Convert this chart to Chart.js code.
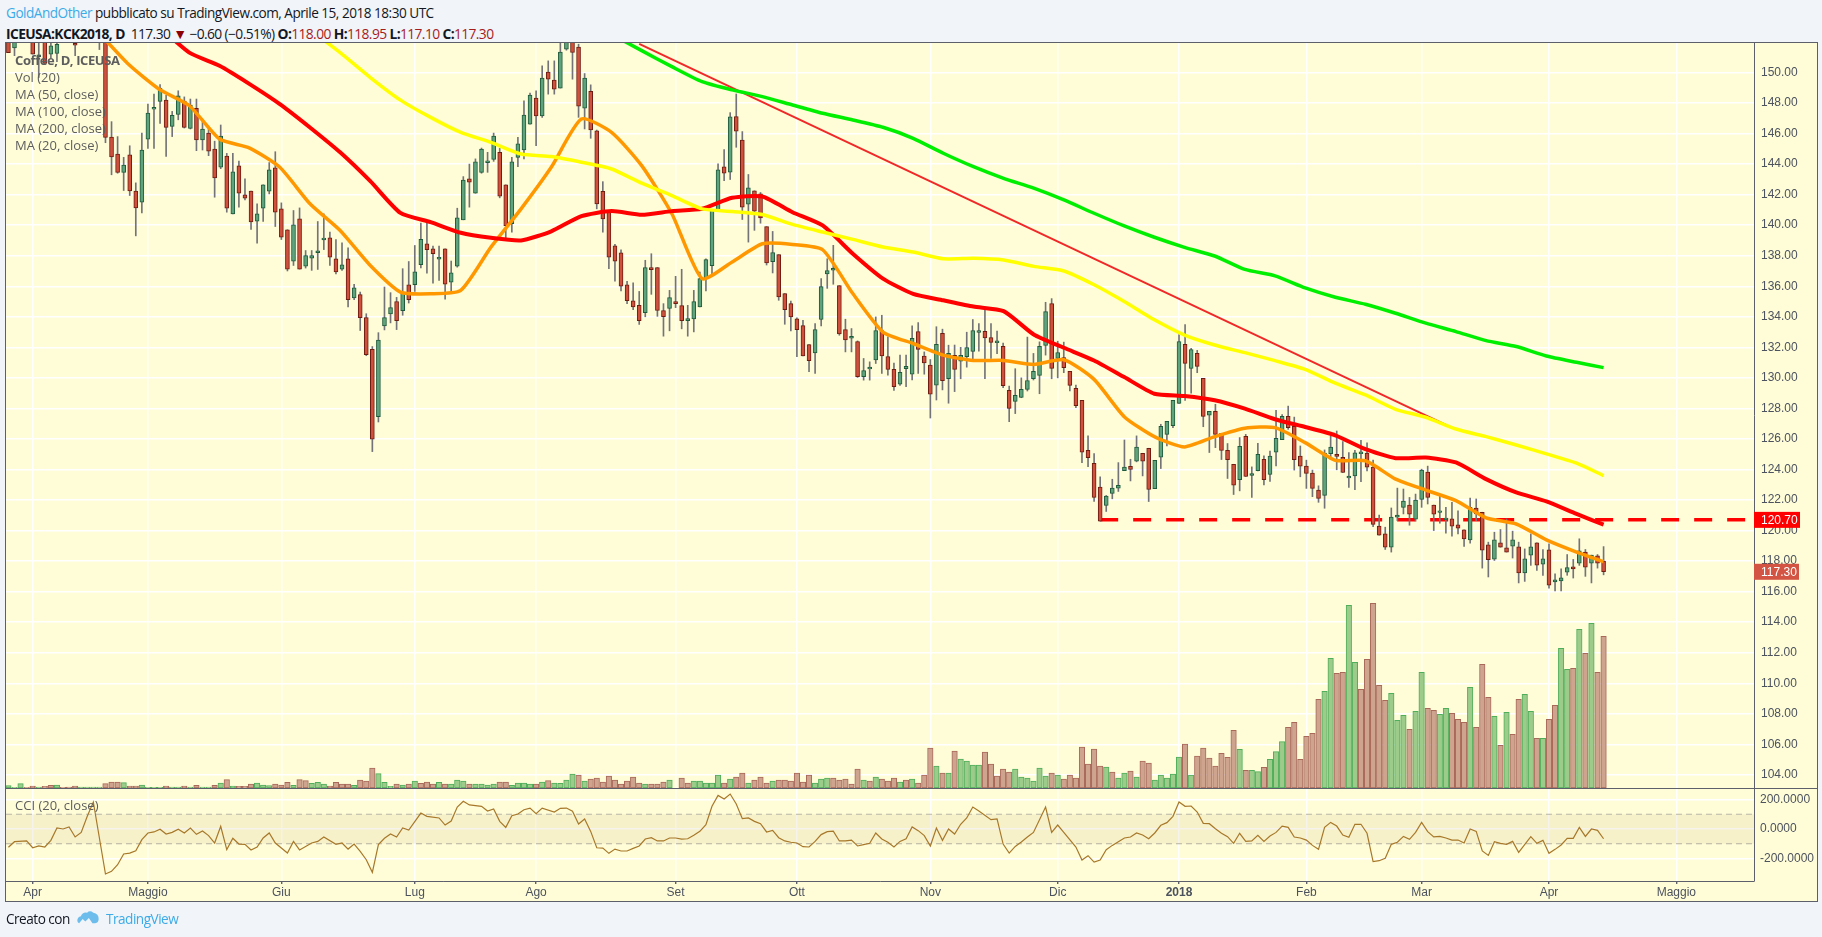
<!DOCTYPE html>
<html>
<head>
<meta charset="utf-8">
<title>ICEUSA:KCK2018</title>
<script src="https://cdn.jsdelivr.net/npm/chart.js@4/dist/chart.umd.min.js"></script>
<style>
  html, body { margin: 0; padding: 0; background: #f1f4f8; width: 1822px; height: 937px; overflow: hidden; }
  body { position: relative; font-family: "Open Sans", sans-serif; color: #131722; }
  .abs { position: absolute; white-space: nowrap; }
  #frame { left: 5px; top: 42px; width: 1811px; height: 858px; background: #fffdd8; border: 1px solid #5d606b; box-sizing: content-box; }
  #paneLine { left: 6px; top: 788px; width: 1811px; height: 1px; background: #5d606b; }
  canvas { position: absolute; left: 6px; }
  .leg { left: 15px; font-size: 13px; line-height: 17px; color: #5d5d5d; }
  .red { color: #a61c1c; }
</style>
</head>
<body>
<div class="abs" style="left:6px;top:3px;font-size:13.6px;line-height:20px;letter-spacing:-.5px"><span style="color:#3cabe8">GoldAndOther</span> pubblicato su TradingView.com, Aprile 15, 2018 18:30 UTC</div>
<div class="abs" style="left:6px;top:24px;font-size:13.8px;line-height:20px;letter-spacing:-.6px"><b>ICEUSA:KCK2018, D</b>&nbsp; 117.30 <span style="color:#8b0000;font-size:14px">▼</span> −0.60 (−0.51%) <b>O:</b><span class="red">118.00</span> <b>H:</b><span class="red">118.95</span> <b>L:</b><span class="red">117.10</span> <b>C:</b><span class="red">117.30</span></div>

<div class="abs" id="frame"></div>
<canvas id="priceChart" width="1810" height="745" style="top:43px"></canvas>
<canvas id="cciChart" width="1810" height="112" style="top:788px"></canvas>
<div class="abs" id="paneLine"></div>

<div class="abs leg" style="top:52px;font-weight:700;letter-spacing:-.4px">Coffee, D, ICEUSA</div>
<div class="abs leg" style="top:69px">Vol (20)</div>
<div class="abs leg" style="top:86px">MA (50, close)</div>
<div class="abs leg" style="top:103px">MA (100, close)</div>
<div class="abs leg" style="top:120px">MA (200, close)</div>
<div class="abs leg" style="top:137px">MA (20, close)</div>
<div class="abs leg" style="top:797px">CCI (20, close)</div>

<div class="abs" style="left:6px;top:909px;font-size:13.6px;line-height:20px;letter-spacing:-.5px">Creato con</div>
<svg class="abs" style="left:76px;top:910px" width="24" height="16" viewBox="0 0 26 18">
  <path d="M1 12 Q1 8 5 7 Q7 2 12 3 Q15 0 19 3 Q25 4 25 10 Q25 14 21 15 L18 15 L14 9 L10 13 L7 10 L3 15 Q1 14 1 12 Z" fill="#6cbcec"/>
</svg>
<div class="abs" style="left:106px;top:909px;font-size:13.6px;line-height:20px;letter-spacing:-.5px;color:#3cabe8">TradingView</div>

<script>
// Candles, one row of ten per line
const opens = [
  152.3,151.6,153,153.2,153,151.1,152.4,151.2,151.24,153,
  153.5,151.85,153,153.6,154,153.5,153,145.77,144.66,143.46,
  144.6,142.24,141.5,145.64,147.65,148.1,148.2,146.47,147.25,148.13,
  146.34,147.65,145.58,146.03,144.99,143.79,144.53,140.74,143.88,141.98,
  142.24,140.26,141.11,142.22,143.75,141.07,139.7,137.65,140.41,137.32,
  137.84,138.26,139.1,139.17,137.8,137.12,137.8,135.23,135.45,133.94,
  131.87,127.46,133.4,134.18,135,134.4,136.1,136.1,137.41,138.78,
  138.45,137.84,138.45,136.27,137.32,140.35,143.03,142.09,143.46,144.16,
  144.31,144.77,142.64,140.09,144.44,144.92,146.62,148.32,147.15,150.02,
  149.5,148.98,151.53,152.3,151.66,147.67,148.76,146.17,142.22,140.85,
  138.65,138.19,136.1,135.05,134.75,134.27,137.22,137.22,134.41,134.54,
  134.99,134.73,133.75,133.86,134.65,136.5,137.35,140.96,143.82,143.47,
  147.11,145.58,141.38,142.25,142.05,139.9,137.61,138.07,135.52,134.86,
  133.86,133.42,132.18,131.64,133.82,136.8,137.11,136.04,133.16,132.66,
  132.38,130.07,130.64,131.18,133.1,131.4,130.56,129.58,130.6,130.24,
  133.03,131.42,130.83,129.52,132.92,129.95,131.48,131.1,131.38,131.73,
  133.04,133.04,132.64,132.36,132.06,129.18,128.46,128.72,129.25,129.94,
  130.16,132.12,134.87,131.27,131.32,130.42,129.31,128.53,125.26,124.41,
  122.84,121.64,122.43,122.78,123.93,124.21,124.54,125.06,125.39,122.75,
  124.8,126.3,126.87,128.33,132.19,130.62,131.6,129.97,127.55,127.81,
  126.37,125.26,124.34,123.34,126.17,123.67,123.93,124.67,123.67,125.13,
  125.96,127.48,126.83,124.87,124.22,123.76,122.65,122.3,125.04,125,
  124.8,123.5,123.57,125.09,125.07,124.15,120.3,119.78,118.91,120.87,
  121.52,121.67,120.74,122.04,123.83,121.67,121.24,120.76,120.76,120.37,
  120.04,119.39,121.48,121.2,119.07,118.13,119.2,118.87,118.98,118.93,
  117.22,118.39,119.2,117.8,118.74,116.63,116.7,117.28,117.63,117.87,
  118.59,117.87,118.35,118
];
const highs = [
  152.6,152.6,153.5,153.8,153.5,152.2,153,152.2,152.3,154,
  154.3,152.5,154,154.4,154.6,154,153.6,146.78,145.8,144.44,
  145.2,142.77,146.03,147.93,148.58,149.2,148.5,147.45,148.8,148.4,
  148.26,148.26,146.9,146.36,145.5,146.56,144.7,144.7,144.2,143.03,
  142.24,141.4,142.64,144.1,144.81,141.46,139.7,140.96,141.13,138.34,
  138.34,140.24,140.74,139.54,139.06,138.85,138.52,136.12,135.62,134.2,
  132.05,132.96,135.95,135.58,135.27,137.15,137.62,138.67,140.13,140.13,
  138.63,138.63,138.45,137.65,141.11,143.18,144,144.34,145.05,144.77,
  146.03,145.03,142.64,144.44,145.75,148.15,148.65,148.8,150.44,150.76,
  150.76,152.5,153,153,151.85,149.93,149.19,146.23,142.85,140.96,
  138.74,138.39,136.32,136.23,135.66,137.7,138.13,137.22,134.86,135.73,
  136.65,137.11,134.75,135.73,136.93,137.8,141,144.01,144.95,147.37,
  148.59,146.13,143.32,142.25,142.14,139.9,139.59,138.07,135.52,135.03,
  133.93,133.77,132.18,133.56,136.5,137.8,138.68,136.04,133.84,133.23,
  132.42,131.27,131.05,133.99,134.1,132.68,130.97,131.5,131.5,133.4,
  133.62,131.7,131.2,133.35,133.19,132.14,132.15,132,132.99,133.82,
  133.56,134.52,133.56,133.06,132.27,129.46,130.6,130,132.67,131.6,
  132.36,134.95,135.19,132.4,132.34,130.42,129.53,128.53,126.2,125.04,
  123.52,122.3,123.36,124.45,125.93,124.67,126.2,125.06,125.39,124.6,
  126.96,127.15,128.53,132.84,133.49,131.93,131.8,129.97,127.81,128.27,
  126.37,125.7,124.34,126.09,126.3,124.17,125.72,124.89,125.2,127.87,
  127.6,128.15,127.43,125.54,124.61,123.96,122.93,125.28,126.2,126.52,
  125.83,125.11,125.26,125.91,125.74,124.61,121.02,120.22,121.48,122.78,
  122.72,122.17,122.39,124.02,124.22,121.67,122.35,121.52,121.85,121.3,
  120.04,122.13,122.07,121.2,119.24,119.89,120.07,120.76,119.96,119.24,
  118.8,119.78,119.2,118.76,119.13,117.17,117.5,118.43,118.11,119.46,
  118.76,118.39,118.43,118.95
];
const lows = [
  151.3,151.1,152.4,152.6,151.2,149.67,150.6,150.95,150.7,152.3,
  152.6,151.1,152.5,152.8,152.9,151.5,145.4,143.3,143.4,142.27,
  141.94,139.3,140.8,145.03,145.03,146.67,144.5,145.8,146.9,146.36,
  146.3,144.88,144.92,144.55,141.83,143.7,140.85,140.74,141.18,141.66,
  139.72,138.82,140.24,142.05,139.91,139.06,137,137.36,137.12,137.19,
  137.04,137.1,138.4,137.36,136.8,137.04,134.64,135.12,133.1,131.45,
  125.17,127.11,133.14,133.6,133.16,134.1,134.9,135.66,137.2,136.86,
  136.2,136.38,135.16,135.51,137.25,140.35,141.18,142.09,143.4,143.46,
  144.18,141.79,139,139.54,143.83,144.34,146.62,145.2,147.06,148.58,
  148.58,148.98,151.46,149.56,147.06,146.3,145.69,141.07,139.54,137.15,
  136.34,135.69,134.86,134.47,133.5,134,135.47,134.03,132.73,133.08,
  134.6,133.21,132.73,133.01,134.65,135.69,136.65,140.96,142.92,142.99,
  145.1,140.37,138.89,139.66,140.13,137.39,136.87,135.08,133.51,133.08,
  131.38,131.44,130.4,130.29,133.4,135.86,136.13,132.79,131.7,131.7,
  130.03,129.85,129.85,130.94,130.29,130.18,129.17,129.5,129.43,129.86,
  130.29,130.24,127.37,128.55,129.21,128.34,129.1,129.94,130.7,131.14,
  131.75,129.94,131.27,131.58,129.35,127.13,127.66,128.7,129.14,129.86,
  128.96,131.49,129.94,130,130.34,129.14,128.05,124.45,124.19,121.9,
  120.62,121.25,122.08,122.56,123.93,123.25,124.5,123.58,121.9,122.75,
  124.06,125.54,126.74,128.33,128.53,129,130.34,126.8,125.11,125.43,
  124.65,123.41,122.36,122.6,123.54,122.17,123.9,122.99,123.21,124.24,
  125.96,126.63,123.96,123.52,122.76,122.22,121.85,121.46,124.67,123.98,
  123.8,122.83,122.67,123.2,123.91,120.26,119.7,118.76,118.59,120.65,
  121.09,120.35,120.61,121.52,121.74,120,120.48,119.83,119.63,119.78,
  118.96,119.17,120.65,117.54,116.96,118.04,118.91,118.59,118.2,116.57,
  116.67,117.72,117.39,117.07,116.22,116.04,116.04,117.07,116.89,117.72,
  117,116.57,117.54,117.1
];
const closes = [
  151.3,152.2,153.2,153.5,151.2,151.1,150.6,151.74,151.85,153.5,
  154,151.75,153.6,154.1,153.5,153,145.75,144.47,143.46,143.94,
  142.24,141.13,144.92,147.34,147.65,148.98,146.4,147.2,148.47,146.4,
  147.87,145.58,146.3,144.84,143.09,145.84,141.11,143.49,142.09,141.76,
  140.22,140.74,142.64,143.62,140.85,139.22,137.12,140.02,137.12,138,
  138,138.26,139.1,137.91,136.93,137.41,135.12,135.9,133.94,131.52,
  125.98,132.48,133.94,134.6,133.75,135.62,135.12,136.95,139.08,138.39,
  138.13,137.84,136.14,136.88,140.48,142.96,142.81,144.14,144.99,144.16,
  145.84,141.9,139.96,144.14,145.32,147.21,148.52,147.15,149.63,149.56,
  148.91,151.33,152.5,151.31,147.8,149.63,146.23,141.39,140.41,137.91,
  137.65,136.01,135.05,134.64,133.75,137.22,137.09,134.41,134,135.25,
  134.86,133.75,133.88,134.99,136.5,137.74,141,143.62,143.4,147.1,
  146.15,141.18,142.44,140.92,140.48,137.52,138.2,135.3,134.47,133.99,
  133.16,131.44,131.12,133.16,135.97,137.02,137.11,132.88,132.49,132.66,
  130.07,130.48,130.64,133.1,131.44,130.55,129.43,130.37,130.76,132.59,
  131.86,130.98,128.93,132.2,129.82,131.6,130.56,131.47,131.99,133.1,
  133.04,132.62,132.32,132.36,129.49,128,128.85,129.25,129.83,130.42,
  132.06,134.34,130.62,131.66,130.66,129.51,128.18,125.13,124.78,122.17,
  120.62,122.25,122.78,122.97,124.15,124,125.46,124.54,122.69,124.6,
  126.83,127.15,128.53,132.38,130.95,131.86,130.75,127.48,127.81,126.3,
  125.24,124.65,122.97,125.52,123.54,123.67,125,123.34,124.87,126.04,
  127.48,126.74,124.65,124.22,123.74,122.76,122.11,125.07,125.46,124.85,
  123.8,123.5,125.09,125.09,124.15,120.41,119.7,118.91,120.89,121.02,
  121.93,121.07,122,123.96,122.17,121.07,121.24,120.76,120.28,120.15,
  119.46,121.52,121.09,118.72,118.09,119.39,118.91,118.59,119.39,117.22,
  118.15,118.93,117.74,118.15,116.43,116.78,116.91,117.57,117.48,118.67,
  117.61,118.39,117.87,117.3
];

// Volume in hundreds of contracts, with its direction (u = green, d = red)
const volumes = [
  7,2,13,2,6,3,5,8,9,2,
  3,6,3,3,3,3,13,18,18,16,
  6,6,9,2,2,2,6,3,3,6,
  3,8,3,3,8,15,25,6,5,5,
  12,15,9,7,12,9,17,8,25,22,
  14,17,12,6,17,12,12,8,24,21,
  60,43,17,5,12,9,12,21,14,18,
  12,17,12,12,24,21,12,12,12,9,
  12,18,18,8,15,15,12,12,18,22,
  15,14,24,42,39,21,27,30,18,36,
  24,12,21,33,15,12,12,12,18,24,
  0,30,15,21,21,15,15,39,15,27,
  33,45,15,24,33,15,21,24,24,21,
  45,18,39,15,27,30,30,24,27,12,
  57,24,21,33,27,21,30,18,24,27,
  15,39,120,66,45,45,111,87,81,69,
  69,108,72,36,57,48,57,33,30,21,
  60,36,45,39,27,39,30,123,72,117,
  66,63,48,30,45,51,33,81,75,24,
  39,30,42,93,132,39,96,120,90,66,
  104,92,173,116,53,53,49,62,86,109,
  139,182,197,86,155,164,266,290,389,344,
  347,548,377,296,386,554,308,263,284,203,
  218,176,230,347,239,233,221,239,224,206,
  197,302,182,371,272,215,128,227,161,266,
  281,230,149,149,206,248,419,356,359,476,
  404,494,347,455
];
const volumeDirs = [
  'uuuddudd' + 'ud', 'dduuuuddd' + 'u', 'dduuuuduud', 'uduudududd', 'duuudddudd',
  'uuuddddudd', 'duuudududd', 'duduuuduuu', 'udduuuudud', 'uuuududddd',
  'dddddudddu', 'ddduuuuudu', 'dduddduddd', 'ddduuudddd', 'dududddudu',
  'dddududuuu', 'uddddduuuu', 'uududddddd', 'duduududdu', 'uuuududddd',
  'ddduduuduu', 'udddddduud', 'duuddddduu', 'uduudduudd', 'dudddududd',
  'uududduudu', 'dudd'
].join('');

// Moving averages, one value every five bars or so
const maBarStep = 4.972;
const ma20First = 3;
const ma50First = 5;
const ma100First = 10;
const ma200First = 20;
const ma20 = [152.6,150.5,148.9,147.82,145.64,145.05,143.79,141.4,139.65,137.36,135.62,135.51,135.73,138.56,141.07,143.79,146.95,146.08,143.9,140.75,136.5,137.59,138.78,138.74,138.39,135.52,133,132.25,131.49,131.14,131.14,130.88,131.19,129.9,127.46,126.15,125.48,126.15,126.7,126.74,125.76,124.6,124.57,123.37,122.65,121.96,120.83,120.43,119.39,118.59,117.96];
const ma50 = [153,151.3,150.44,149.24,147.93,146.4,144.77,142.88,140.8,140.2,139.5,139.17,139,139.6,140.59,140.92,140.68,140.92,141.07,141.79,141.88,140.85,139.98,138.13,136.5,135.5,135.08,134.67,134.37,132.84,131.97,131.14,130.05,128.96,128.81,128.53,127.98,127.29,126.78,126.24,125.33,124.74,124.78,124.46,123.37,122.5,121.91,121.09,120.39];
const ma100 = [152.8,151.3,149.67,148.19,147.06,146.08,145.42,144.66,144.49,144.12,143.68,142.75,141.94,141.07,140.9,140.7,140.05,139.55,139.07,138.57,138.24,137.8,137.83,137.72,137.3,137,136.1,135,133.8,132.8,132.15,131.65,131.13,130.56,129.65,128.88,127.94,127.42,126.65,126.15,125.6,125.02,124.41,123.6];
const ma200 = [152.5,151.43,150.38,149.4,148.86,148.42,147.87,147.33,146.89,146.41,145.69,144.71,143.83,143.07,142.42,141.65,140.78,139.95,139.21,138.55,137.98,137.1,136.68,135.89,135.28,134.82,134.23,133.58,133.03,132.44,132.05,131.43,131.02,130.67];

// CCI (20), null where the vertex could not be told apart
const cci = [
  -124,-86,null,-81,-127,-115,-122,-77,7,0,
  14,-54,-23,86,183,null,-305,-287,-242,-169,
  -163,-147,-72,-27,-20,-2,-34,-23,-2,-27,
  7,-36,-14,-45,-95,18,-140,-63,-102,-104,
  -142,-122,-61,-27,-95,null,-163,-84,-142,null,
  -95,-84,-54,null,-104,-95,-136,-102,-151,-208,
  -294,-106,-63,-34,-54,7,-7,null,108,86,
  null,75,27,54,149,188,163,null,154,122,
  136,52,11,90,102,131,142,104,142,null,
  115,140,142,120,34,68,-16,-127,-129,-165,
  -136,-149,-149,-131,-115,-68,-59,-81,-81,-61,
  -61,-68,-66,-43,-16,29,154,228,203,237,
  170,70,75,52,36,-20,-9,-59,-81,-90,
  -95,-120,-122,-84,-38,-18,-14,-81,-81,-75,
  -115,-106,-97,-27,-68,-90,-122,-84,-66,14,
  -11,-45,-115,7,-77,0,-34,32,75,149,
  122,null,63,68,-102,-163,-118,-88,-54,-23,
  null,149,-23,27,-23,null,-122,-210,-181,-224,
  -210,-140,-111,-86,-61,-54,-27,-41,-66,-27,
  25,43,86,183,154,156,115,38,36,2,
  -29,-52,-97,-29,-84,-81,-43,-84,-47,-23,
  20,11,-54,-61,-75,-111,-138,11,45,20,
  -41,-56,32,32,-29,-221,-215,-199,-104,-90,
  -50,-70,-23,45,-18,-54,-50,-61,-75,-75,
  -95,0,-16,-149,-179,-86,-97,-104,-84,-158,
  null,-52,-97,-77,-165,-138,-108,-63,-63,11,-50,0,-9,-66
];
const cciTicks = [-200, 0, 200];

// Trend line and support level
const trendBars = [104, 237];
const trendPrices = [151.87, 126.92];
const supportBars = [180, 288];
const supportPrice = 120.7;
const lastPrice = 117.3;

// Time axis
const monthBars = [4, 23, 45, 67, 87, 110, 130, 152, 173, 193, 214, 233, 254, 275];
const monthLabels = ['Apr', 'Maggio', 'Giu', 'Lug', 'Ago', 'Set', 'Ott', 'Nov', 'Dic', '2018', 'Feb', 'Mar', 'Apr', 'Maggio'];

const lastBar = opens.length - 1;
const xMin = -0.4;
const xMax = 287.8;
const priceMin = 103.14;
const priceMax = 151.93;
const volumeMax = 2235;
const cciMin = -352.5;
const cciMax = 278;
const gridColor = '#ffffff';
const axisColor = '#5d606b';
const tickColor = '#4c525e';
const tickFont = { family: '"Liberation Sans", sans-serif', size: 12 };

function maPoints(values, first) {
  return values.map((v, k) => ({ x: Math.min((first + k) * maBarStep, lastBar), y: v }));
}

function maDataset(values, first, color, width) {
  return {
    type: 'line', data: maPoints(values, first), borderColor: color, borderWidth: width,
    pointRadius: 0, tension: 0.2, order: 1, yAxisID: 'y'
  };
}

// Chart.js keeps half a tick label free at the ends of an axis, the panes here run edge to edge
function fitRightAxis(axis) {
  axis.width = 62;
  axis.paddingTop = 0;
  axis.paddingBottom = 0;
}

function fitBottomAxis(axis, height) {
  axis.height = height;
  axis.paddingLeft = 0;
  axis.paddingRight = 0;
}

const wickData = highs.map((h, i) => ({ x: i, y: [lows[i], h] }));
const bodyData = opens.map((o, i) => ({
  x: i,
  y: Math.abs(o - closes[i]) < 0.12 ? [o - 0.06, o + 0.06] : [o, closes[i]]
}));
const isUp = opens.map((o, i) => closes[i] >= o);
const volumeData = volumes.map((v, i) => ({ x: i, y: v }));

// Boxes on the price axis for the support level and the last close
const priceTags = {
  id: 'priceTags',
  afterDraw(chart) {
    const c = chart.ctx;
    const yScale = chart.scales.y;
    const right = chart.chartArea.right;
    [[supportPrice, '#ff0000', 46], [lastPrice, '#d35442', 45]].forEach(tag => {
      const y = yScale.getPixelForValue(tag[0]);
      c.save();
      c.fillStyle = tag[1];
      c.fillRect(right, y - 8, tag[2], 16);
      c.fillStyle = '#ffffff';
      c.font = '12px "Liberation Sans", sans-serif';
      c.textAlign = 'left';
      c.textBaseline = 'middle';
      c.fillText(tag[0].toFixed(2), right + 7, y + 0.5);
      c.restore();
    });
  }
};

const priceChart = new Chart(document.getElementById('priceChart').getContext('2d'), {
  type: 'bar',
  data: {
    datasets: [
      maDataset(ma200, ma200First, '#00ee00', 3.5),
      maDataset(ma100, ma100First, '#ffff00', 3.5),
      {
        type: 'line', data: trendBars.map((b, i) => ({ x: b, y: trendPrices[i] })),
        borderColor: '#f02828', borderWidth: 2, pointRadius: 0, order: 2, yAxisID: 'y'
      },
      maDataset(ma50, ma50First, '#ff0000', 4),
      maDataset(ma20, ma20First, '#ff9800', 3.5),
      {
        data: bodyData, order: 4, yAxisID: 'y', grouped: false, barThickness: 4, borderSkipped: false, borderWidth: 1,
        backgroundColor: isUp.map(u => u ? '#5fa37c' : '#d0503c'),
        borderColor: isUp.map(u => u ? '#1f5a3c' : '#6e1c12')
      },
      {
        data: wickData, order: 5, yAxisID: 'y', grouped: false, barThickness: 1, borderWidth: 0,
        backgroundColor: '#747478'
      },
      {
        type: 'line', data: supportBars.map(b => ({ x: b, y: supportPrice })),
        borderColor: '#ff0000', borderWidth: 3.5, borderDash: [18, 15], pointRadius: 0, order: 6, yAxisID: 'y'
      },
      {
        data: volumeData, order: 7, yAxisID: 'yVolume', grouped: false, barThickness: 5.5, borderSkipped: false, borderWidth: 1,
        backgroundColor: volumes.map((v, i) => volumeDirs[i] === 'u' ? '#9ccb8a' : '#cea48f'),
        borderColor: volumes.map((v, i) => volumeDirs[i] === 'u' ? '#4fae5a' : '#a9695a')
      }
    ]
  },
  options: {
    responsive: false,
    animation: false,
    events: [],
    layout: { padding: 0, autoPadding: false },
    plugins: { legend: { display: false }, tooltip: { enabled: false } },
    scales: {
      x: {
        type: 'linear', min: xMin, max: xMax, offset: false,
        afterBuildTicks: axis => { axis.ticks = monthBars.map(v => ({ value: v })); },
        afterFit: axis => fitBottomAxis(axis, 0),
        grid: { color: gridColor, lineWidth: 1.4, drawTicks: false, offset: false },
        border: { display: true, color: axisColor, width: 1 },
        ticks: { display: false }
      },
      y: {
        position: 'right', min: priceMin, max: priceMax,
        afterFit: fitRightAxis,
        grid: { color: gridColor, lineWidth: 1.4, drawTicks: false },
        border: { color: axisColor, width: 1 },
        ticks: {
          stepSize: 2, includeBounds: false, padding: 7, color: tickColor, font: tickFont, crossAlign: 'near',
          callback: v => v.toFixed(2)
        }
      },
      yVolume: { display: false, min: 0, max: volumeMax }
    }
  },
  plugins: [priceTags]
});

const cciChart = new Chart(document.getElementById('cciChart').getContext('2d'), {
  type: 'line',
  data: {
    datasets: [
      {
        data: [{ x: xMin, y: 100 }, { x: xMax, y: 100 }], borderColor: '#b9b5a8', borderWidth: 1.2, borderDash: [6, 4],
        pointRadius: 0, fill: { value: -100 }, backgroundColor: 'rgba(152,120,40,0.09)', order: 3
      },
      {
        data: [{ x: xMin, y: -100 }, { x: xMax, y: -100 }], borderColor: '#b9b5a8', borderWidth: 1.2, borderDash: [6, 4],
        pointRadius: 0, order: 3
      },
      {
        data: cci.map((v, i) => ({ x: i, y: v })), borderColor: '#a8782a', borderWidth: 1.2,
        pointRadius: 0, spanGaps: true, order: 1
      }
    ]
  },
  options: {
    responsive: false,
    animation: false,
    events: [],
    layout: { padding: 0, autoPadding: false },
    plugins: { legend: { display: false }, tooltip: { enabled: false } },
    scales: {
      x: {
        type: 'linear', min: xMin, max: xMax,
        afterBuildTicks: axis => { axis.ticks = monthBars.map(v => ({ value: v })); },
        afterFit: axis => fitBottomAxis(axis, 19),
        grid: { color: gridColor, lineWidth: 1.4, tickColor: axisColor, tickLength: 3 },
        border: { color: axisColor, width: 1 },
        ticks: {
          autoSkip: false, maxRotation: 0, padding: 1, color: tickColor,
          font: ctx => ({ family: tickFont.family, size: tickFont.size, weight: ctx.index === 9 ? 'bold' : 'normal' }),
          callback: (v, i) => monthLabels[i]
        }
      },
      y: {
        position: 'right', min: cciMin, max: cciMax,
        afterBuildTicks: axis => { axis.ticks = cciTicks.map(v => ({ value: v })); },
        afterFit: fitRightAxis,
        grid: { color: gridColor, lineWidth: 1.4, drawTicks: false },
        border: { color: axisColor, width: 1 },
        ticks: {
          padding: 6, color: tickColor, font: tickFont, crossAlign: 'near',
          callback: v => v.toFixed(4)
        }
      }
    }
  }
});
</script>
</body>
</html>
